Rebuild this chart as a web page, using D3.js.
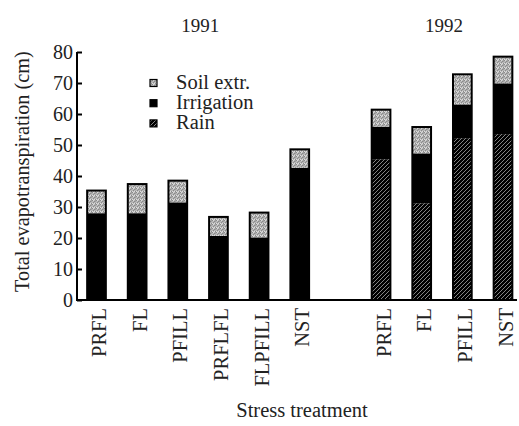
<!DOCTYPE html>
<html><head><meta charset="utf-8">
<script src="https://cdn.jsdelivr.net/npm/d3@7"></script>
<style>body{margin:0;background:#fff}</style>
</head><body><svg id="c" width="519" height="426" font-family="Liberation Serif, Times New Roman, DejaVu Serif, serif"></svg>
<script>
const treatments = ["PRFL","FL","PFILL","PRFLFL","FLPFILL","NST","PRFL","FL","PFILL","NST"];
const years = ["1991","1991","1991","1991","1991","1991","1992","1992","1992","1992"];
const rain = [0,0,0,0,0,0,45.4,31.2,52.2,53.5];
const irrigation = [28.0,28.0,31.5,20.7,20.2,42.7,10.5,16.1,10.9,16.4];
const soilExtr = [7.3,9.4,7.0,6.1,8.0,5.9,5.5,8.5,9.7,8.6];
const yTicks = [0,10,20,30,40,50,60,70,80];
const yearLabels = ["1991","1992"];

const FONT = "Liberation Serif, Times New Roman, DejaVu Serif, serif";
const svg = d3.select("#c");
const defs = svg.append("defs");
const st = defs.append("pattern").attr("id","soil").attr("patternUnits","userSpaceOnUse").attr("width",4).attr("height",4);
st.append("rect").attr("width",4).attr("height",4).attr("fill","#b8b8b8");
[[0,0],[2,1],[1,2],[3,3],[3,0.5]].forEach(([a,b])=>st.append("rect").attr("x",a).attr("y",b).attr("width",1).attr("height",1).attr("fill","#8a8a8a"));
[[1,0],[0,3],[2,3]].forEach(([a,b])=>st.append("rect").attr("x",a).attr("y",b).attr("width",1).attr("height",1).attr("fill","#dcdcdc"));
const rp = defs.append("pattern").attr("id","rain").attr("patternUnits","userSpaceOnUse").attr("width",4).attr("height",4);
rp.append("rect").attr("width",4).attr("height",4).attr("fill","#000");
rp.append("path").attr("d","M-1,1 L1,-1 M0,4 L4,0 M3,5 L5,3").attr("stroke","#bdbdbd").attr("stroke-width",0.7);

const slots = d3.range(11).map(String);
const slotIndex = [0,1,2,3,4,5,7,8,9,10];
const x = d3.scalePoint().domain(slots).range([96.5,503]);
const bw = x.step()*0.46;
const y = d3.scaleLinear().domain([0,80]).range([300,52]);

const data = treatments.map((t,i)=>({t, slot:String(slotIndex[i]), rain:rain[i], irr:irrigation[i], soil:soilExtr[i]}));

const g = svg.append("g");
data.forEach(d=>{
  const cx = x(d.slot);
  const total = d.rain+d.irr+d.soil;
  const bg = g.append("g");
  if(d.rain>0) bg.append("rect").attr("x",cx-bw/2).attr("width",bw).attr("y",y(d.rain)).attr("height",y(0)-y(d.rain)).attr("fill","url(#rain)");
  bg.append("rect").attr("x",cx-bw/2).attr("width",bw).attr("y",y(d.rain+d.irr)).attr("height",y(d.rain)-y(d.rain+d.irr)).attr("fill","#000");
  bg.append("rect").attr("x",cx-bw/2).attr("width",bw).attr("y",y(total)).attr("height",y(d.rain+d.irr)-y(total)).attr("fill","url(#soil)");
  bg.append("rect").attr("x",cx-bw/2).attr("width",bw).attr("y",y(total)).attr("height",y(0)-y(total)).attr("fill","none").attr("stroke","#000").attr("stroke-width",2);
});

const ya = svg.append("g").attr("transform","translate(77,0)").call(d3.axisRight(y).tickValues(yTicks).tickSize(5).tickFormat(d3.format("d")));
ya.attr("font-family",FONT).attr("font-size",20);
ya.select(".domain").attr("stroke","#000").attr("stroke-width",2).attr("d","M0,52V300");
ya.selectAll(".tick line").attr("stroke","#000").attr("stroke-width",2);
ya.selectAll(".tick text").attr("x",-4).attr("dy","0.34em").attr("text-anchor","end").attr("font-size",20).attr("font-family",FONT).attr("fill","#222");

const xa = svg.append("g").attr("transform","translate(0,300)").call(d3.axisBottom(x).tickValues([]).tickSizeOuter(0));
xa.select(".domain").attr("stroke","#000").attr("stroke-width",2).attr("d","M76,0H517");

function txt(){ return svg.append("text").attr("font-family",FONT).attr("fill","#222"); }

data.forEach(d=>{
  txt().attr("transform",`translate(${x(d.slot)+9.5},308) rotate(-90)`)
    .attr("text-anchor","end").attr("font-size",20.5).text(d.t);
});

yearLabels.forEach(yr=>{
  const idx = years.map((v,i)=>v===yr?i:-1).filter(i=>i>=0);
  const c = (x(String(slotIndex[idx[0]]))+x(String(slotIndex[idx[idx.length-1]])))/2;
  txt().attr("x",c+2).attr("y",31.5).attr("text-anchor","middle").attr("font-size",19).text(yr);
});

txt().attr("x",302).attr("y",417).attr("text-anchor","middle").attr("font-size",20.5).text("Stress treatment");
txt().attr("transform","translate(29,171.5) rotate(-90)").attr("text-anchor","middle").attr("font-size",20.3).text("Total evapotranspiration (cm)");

const leg = [["Soil extr.","url(#soil)"],["Irrigation","#000"],["Rain","url(#rain)"]];
leg.forEach(([n,f],i)=>{
  const yy = 83 + i*20.2;
  svg.append("rect").attr("x",150).attr("y",yy-3.5).attr("width",7).attr("height",7).attr("fill",f).attr("stroke","#000").attr("stroke-width",1.2);
  txt().attr("x",176).attr("y",yy+5.5).attr("font-size",20.5).text(n);
});
</script></body></html>
